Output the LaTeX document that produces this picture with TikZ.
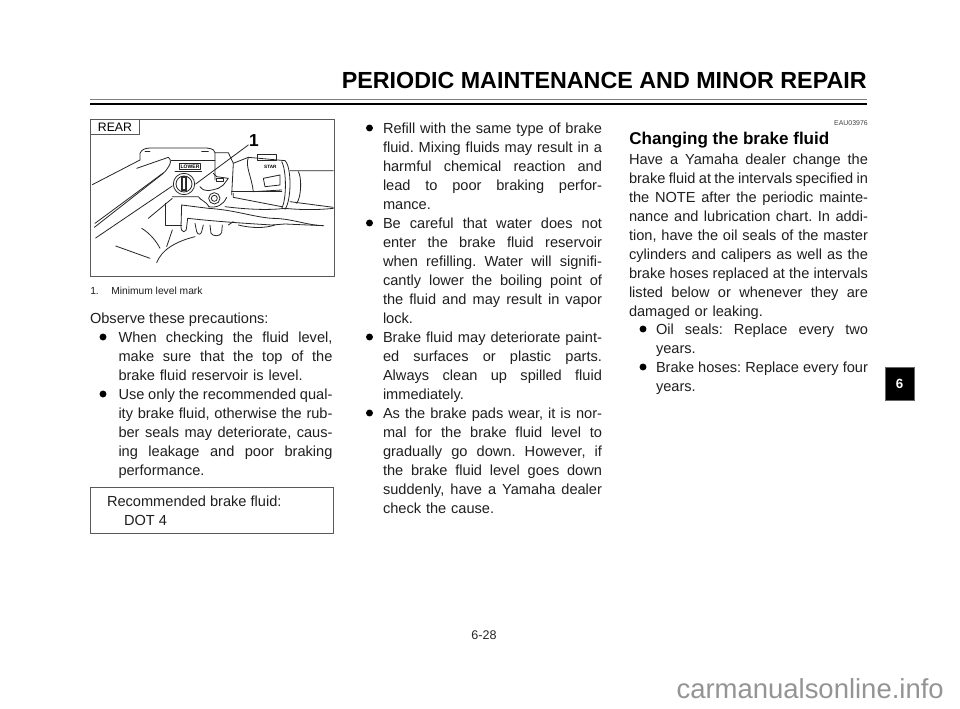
\documentclass[tikz,border=0pt]{standalone}
\usepackage{fontspec}
\setmainfont{Liberation Sans}
\newcommand{\bodyfs}{\fontsize{10.95pt}{14.25pt}\selectfont\frenchspacing}
\newcommand{\jl}[1]{\leavevmode\hbox to \hsize{\spaceskip=.278em plus 1fil minus .2em\relax #1}\par}
\newcommand{\lline}[1]{\leavevmode\hbox to \hsize{#1\hfil}\par}
\tikzset{
  x=0.75pt,y=-0.75pt,
  para/.style={anchor=north west,inner sep=0pt,outer sep=0pt,font=\bodyfs,text=black!88,yshift=-2.25pt},
  bul/.style={circle,fill=black,inner sep=0pt,minimum size=5.2pt},
  art/.style={draw=black!85,line width=0.6pt,line cap=round,line join=round},
  frame/.style={draw=black!65,line width=0.7pt},
}
\begin{document}
\begin{tikzpicture}
\useasboundingbox (0,0) rectangle (960,709);
\fill[white] (0,0) rectangle (960,709);
% header
\node[anchor=base east,inner sep=0pt,font=\fontsize{17.47pt}{20pt}\selectfont\bfseries] (title) at (867,89) {PERIODIC MAINTENANCE AND MINOR REPAIR};
\draw[black!50,line width=1.3pt] (90,99.5) -- (867,99.5);
\draw[black,line width=1pt] (90,104) -- (867,104);
% illustration frame
\node[frame,anchor=north west,inner sep=0pt,minimum width=183pt,minimum height=118pt] (pic) at (90,119) {};
\node[frame,anchor=north west,inner sep=0pt,minimum width=36.75pt,minimum height=11.5pt,font=\fontsize{9.2pt}{10pt}\selectfont] (rear) at (90,119) {REAR};
\node[inner sep=0pt,font=\fontsize{13pt}{14pt}\selectfont\bfseries] (one) at (254,141) {1};
\begin{scope}[shift={(85,110)},x=0.25pt,y=-0.25pt]
  % left hand / handlebar lines
  \draw[art] (22,224) -- (165,150) (155,175) -- (250,142) .. controls (260,150) and (260,160) .. (240,185) -- (30,340);
  \draw[art] (28,352) -- (235,190) (32,384) -- (262,228);
  \draw[art] (190,325) -- (262,265);
  \draw[art] (170,355) .. controls (195,370) and (215,395) .. (225,415);
  \draw[art] (262,360) -- (245,410);
  \draw[art] (92,408) -- (195,445);
  \draw[art] (215,458) .. controls (230,420) and (270,395) .. (330,380);
  % reservoir
  \draw[art] (165,150) -- (165,130) .. controls (170,118) and (180,115) .. (195,114) -- (365,114) .. controls (385,116) and (390,122) .. (390,128) -- (390,210);
  \draw[art] (180,125) -- (195,125) (350,125) -- (370,125);
  \draw[art] (258,152) -- (390,152);
  \draw[art] (270,185) -- (350,185) (283,160) rectangle (347,178);
  \draw[art,fill=white] (297,222) circle (32);
  \draw[art] (297,222) circle (24);
  \draw[art,fill=black!80] (290,200) rectangle (304,240);
  \fill[white] (294,204) rectangle (300,236);
  \draw[art] (240,280) -- (240,345) -- (290,345);
  \draw[art] (262,260) -- (340,260) .. controls (345,270) and (365,275) .. (372,290);
  % leader
  \draw[art] (490,105) -- (332,222);
  % master cylinder and clamp
  \draw[art] (390,128) -- (430,128) -- (445,160) -- (440,255);
  \draw[art] (345,230) .. controls (360,250) and (380,240) .. (400,235) -- (415,225) -- (430,205) -- (395,200) -- (385,190);
  \draw[art] (395,205) rectangle (415,215);
  \draw[art] (388,265) circle (17);
  \draw[art] (388,265) circle (9);
  \draw[art] (370,290) .. controls (395,295) and (415,285) .. (425,262);
  % lever
  \draw[art] (290,285) -- (370,295) .. controls (450,300) and (500,320) .. (560,325) .. controls (620,325) and (660,345) .. (715,347);
  \draw[art] (290,285) -- (288,350) .. controls (288,370) and (305,370) .. (305,350) -- (308,325) .. controls (400,335) and (480,340) .. (560,345) -- (600,342) -- (715,347);
  \draw[art] (420,290) .. controls (500,300) and (560,300) .. (600,295) .. controls (650,300) and (700,300) .. (745,295);
  \draw[art] (330,340) -- (335,365) .. controls (338,375) and (348,375) .. (350,365) -- (355,345);
  \draw[art] (375,345) -- (378,370) .. controls (385,380) and (405,380) .. (410,368) -- (412,345);
  \draw[art] (430,345) -- (445,335) (460,345) .. controls (500,355) and (540,355) .. (570,345);
  % switch housing
  \draw[art] (445,160) -- (490,142) -- (600,152);
  \draw[art] (517,133) rectangle (575,150);
  \draw[art] (490,142) .. controls (480,170) and (500,200) .. (505,245) -- (590,240);
  \draw[art] (440,245) -- (590,245);
  \draw[art] (535,205) -- (585,195) -- (585,225) -- (540,230) -- cycle;
  \draw[art] (600,152) .. controls (620,170) and (620,270) .. (600,298);
  \draw[art] (590,155) .. controls (605,180) and (605,270) .. (590,295);
  \draw[art] (615,182) -- (745,182) (615,275) -- (745,292);
  \draw[art] (640,185) .. controls (650,200) and (650,260) .. (635,280);
  \draw[art] (445,250) -- (445,262) -- (590,290);
  \node[inner sep=0pt,font=\fontsize{3.8pt}{4pt}\selectfont\bfseries] (mark) at (315,169) {LOWER};
  \node[inner sep=0pt,font=\fontsize{3.5pt}{4pt}\selectfont\bfseries] (vend) at (556,172) {STAR};
\end{scope}
% caption
\node[anchor=base west,inner sep=0pt,font=\fontsize{7.7pt}{9pt}\selectfont,text=black!88] (capn) at (90,294.5) {1.};
\node[anchor=base west,inner sep=0pt,font=\fontsize{7.7pt}{9pt}\selectfont,text=black!88] (capt) at (111,294.5) {Minimum level mark};
% column 1
\node[para] (obs) at (90,310) {Observe these precautions:};
\node[bul] (b1) at (103,337) {};
\node[para,text width=160.5pt] (p1) at (118.5,329) {\baselineskip=14.25pt
  \jl{When checking the fluid level,}\jl{make sure that the top of the}\lline{brake fluid reservoir is level.}};
\node[bul] (b2) at (103,394) {};
\node[para,text width=160.5pt] (p2) at (118.5,386) {\baselineskip=14.25pt
  \jl{Use only the recommended qual-}\jl{ity brake fluid, otherwise the rub-}\jl{ber seals may deteriorate, caus-}\jl{ing leakage and poor braking}\lline{performance.}};
\node[frame,anchor=north west,inner sep=0pt,minimum width=182pt,minimum height=34.5pt] (box) at (90,487) {};
\node[para] (rec) at (107,493) {Recommended brake fluid:};
\node[para] (dot) at (124,512) {DOT 4};
% column 2
\node[bul] (c1) at (369.5,128) {};
\node[para,text width=164.25pt] (q1) at (383,120) {\baselineskip=14.25pt
  \jl{Refill with the same type of brake}\jl{fluid. Mixing fluids may result in a}\jl{harmful chemical reaction and}\jl{lead to poor braking perfor-}\lline{mance.}};
\node[bul] (c2) at (369.5,223) {};
\node[para,text width=164.25pt] (q2) at (383,215) {\baselineskip=14.25pt
  \jl{Be careful that water does not}\jl{enter the brake fluid reservoir}\jl{when refilling. Water will signifi-}\jl{cantly lower the boiling point of}\jl{the fluid and may result in vapor}\lline{lock.}};
\node[bul] (c3) at (369.5,337) {};
\node[para,text width=164.25pt] (q3) at (383,329) {\baselineskip=14.25pt
  \jl{Brake fluid may deteriorate paint-}\jl{ed surfaces or plastic parts.}\jl{Always clean up spilled fluid}\lline{immediately.}};
\node[bul] (c4) at (369.5,413) {};
\node[para,text width=164.25pt] (q4) at (383,405) {\baselineskip=14.25pt
  \jl{As the brake pads wear, it is nor-}\jl{mal for the brake fluid level to}\jl{gradually go down. However, if}\jl{the brake fluid level goes down}\jl{suddenly, have a Yamaha dealer}\lline{check the cause.}};
% column 3
\node[anchor=base east,inner sep=0pt,font=\fontsize{5.2pt}{6pt}\selectfont,text=black!75] (eau) at (868,126) {EAU03976};
\node[anchor=base west,inner sep=0pt,font=\fontsize{12.8pt}{16pt}\selectfont\bfseries] (head) at (629,144.5) {Changing the brake fluid};
\node[para,text width=179.25pt] (r1) at (629,151) {\baselineskip=14.25pt
  \jl{Have a Yamaha dealer change the}\jl{brake fluid at the intervals specified in}\jl{the NOTE after the periodic mainte-}\jl{nance and lubrication chart. In addi-}\jl{tion, have the oil seals of the master}\jl{cylinders and calipers as well as the}\jl{brake hoses replaced at the intervals}\jl{listed below or whenever they are}\lline{damaged or leaking.}};
\node[bul] (d1) at (643,329) {};
\node[para,text width=159pt] (r2) at (656,321) {\baselineskip=14.25pt
  \jl{Oil seals: Replace every two}\lline{years.}};
\node[bul] (d2) at (643,367) {};
\node[para,text width=159pt] (r3) at (656,359) {\baselineskip=14.25pt
  \jl{Brake hoses: Replace every four}\lline{years.}};
% tab
\node[fill=black,draw=black!60,line width=0.4pt,anchor=north west,inner sep=0pt,minimum width=21.5pt,minimum height=24.5pt,text=white,font=\fontsize{10pt}{11pt}\selectfont\bfseries] (tab) at (885,367) {6};
% footer
\node[inner sep=0pt,font=\fontsize{9.4pt}{11pt}\selectfont,text=black!85] (page) at (484,635) {6-28};
\node[anchor=base east,inner sep=0pt,font=\fontsize{20.6pt}{22pt}\selectfont,text=black!42] (wm) at (944,698) {carmanualsonline.info};
\end{tikzpicture}
\end{document}
